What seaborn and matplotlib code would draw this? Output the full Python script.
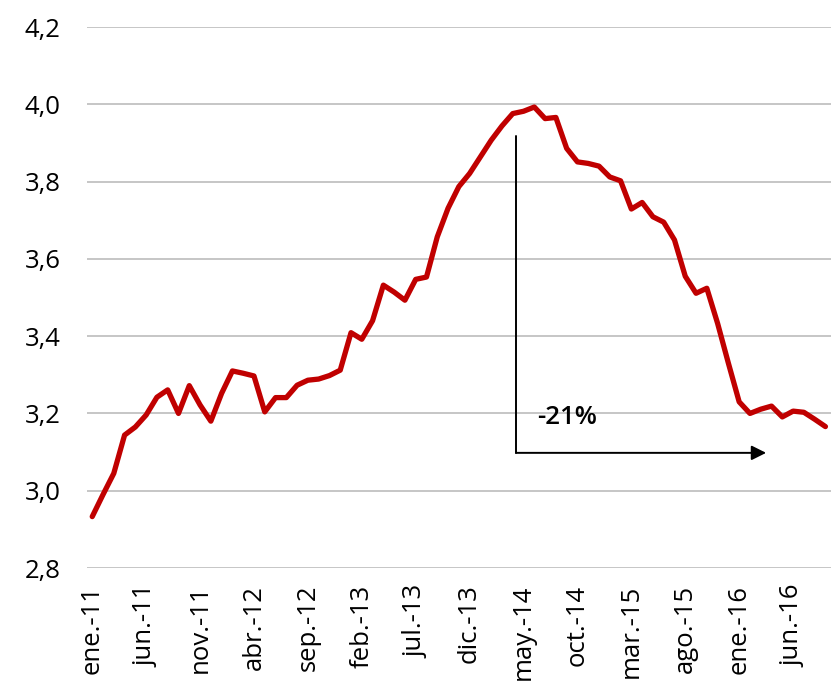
import matplotlib
matplotlib.use("Agg")
import matplotlib.pyplot as plt
from matplotlib.ticker import FuncFormatter
import numpy as np
import seaborn as sns

# Serie mensual ene.-11 a sep.-16
valores = [
    2.933, 2.990, 3.045, 3.144, 3.165, 3.196, 3.242, 3.261, 3.200, 3.272,
    3.222, 3.180, 3.252, 3.310, 3.304, 3.297, 3.204, 3.241, 3.241, 3.273,
    3.286, 3.289, 3.298, 3.312, 3.409, 3.392, 3.440, 3.532, 3.514, 3.493,
    3.547, 3.553, 3.657, 3.731, 3.787, 3.821, 3.864, 3.907, 3.944, 3.976,
    3.982, 3.993, 3.963, 3.966, 3.886, 3.851, 3.847, 3.840, 3.812, 3.802,
    3.729, 3.746, 3.709, 3.695, 3.649, 3.555, 3.511, 3.524, 3.433, 3.330,
    3.230, 3.200, 3.211, 3.219, 3.191, 3.206, 3.203, 3.185, 3.166,
]
meses = np.arange(len(valores))

etiquetas_x = [
    "ene.-11", "jun.-11", "nov.-11", "abr.-12", "sep.-12", "feb.-13", "jul.-13",
    "dic.-13", "may.-14", "oct.-14", "mar.-15", "ago.-15", "ene.-16", "jun.-16",
]
pos_x = np.arange(0, len(valores), 5)[:len(etiquetas_x)]

ticks_y = [2.8, 3.0, 3.2, 3.4, 3.6, 3.8, 4.0, 4.2]

# Anotacion de la caida
inicio_caida = 39.3
fin_flecha = 62.5
nivel_flecha = 3.098
tope_linea = 3.918
texto_caida = "-21%"

sns.set_theme(style="white")
plt.rcParams["font.family"] = ["Open Sans", "DejaVu Sans"]

fig = plt.figure(figsize=(8.35, 6.86), dpi=100)
ax = fig.add_axes([0.104, 0.172, 0.891, 0.7886])

for v in ticks_y:
    ax.axhline(v, color="#c6c6c6", lw=1.4, zorder=0)

sns.lineplot(x=meses, y=valores, ax=ax, color="#c00000", linewidth=3.8,
             solid_joinstyle="round", solid_capstyle="round")

ax.plot([inicio_caida, inicio_caida], [nivel_flecha, tope_linea],
        color="black", lw=1.4)
ax.annotate("", xy=(fin_flecha, nivel_flecha), xytext=(inicio_caida, nivel_flecha),
            arrowprops=dict(arrowstyle="-|>", color="black", lw=1.4,
                            mutation_scale=22, shrinkA=0, shrinkB=0))
ax.text(inicio_caida + 2.0, 3.19, texto_caida, fontsize=18.5, fontweight="semibold",
        ha="left", va="center", color="black")

ax.set_xlim(-0.5, len(valores) - 0.5)
ax.set_ylim(2.8, 4.2)
ax.set_yticks(ticks_y)
ax.yaxis.set_major_formatter(FuncFormatter(lambda v, p: f"{v:.1f}".replace(".", ",")))
ax.set_xticks(pos_x)
ax.set_xticklabels(etiquetas_x, rotation=90)
ax.tick_params(axis="both", length=0, labelsize=18.5, colors="black")
ax.tick_params(axis="y", pad=19)
ax.tick_params(axis="x", pad=12)
ax.set_xlabel("")
ax.set_ylabel("")
for s in ax.spines.values():
    s.set_visible(False)

fig.savefig("out.png", dpi=100)
